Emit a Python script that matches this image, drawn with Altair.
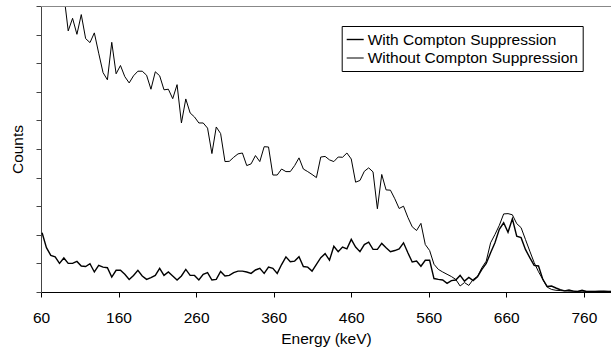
import altair as alt
import pandas as pd

# Detector channel calibration (keV): first channel and channel width
CHANNEL_START = 61.4
CHANNEL_STEP = 5.615

series_names = ["With Compton Suppression", "Without Compton Suppression"]

# counts per channel (arbitrary units, 1 unit = one y tick)
with_cs = [
    2.07, 1.55, 1.28, 1.23, 1.00, 1.19, 1.00, 1.00, 1.07, 0.91,
    0.89, 0.99, 0.70, 0.93, 0.87, 0.85, 0.52, 0.76, 0.76, 0.62,
    0.44, 0.58, 0.76, 0.56, 0.44, 0.50, 0.58, 0.83, 0.58, 0.70,
    0.56, 0.42, 0.56, 0.79, 0.58, 0.58, 0.42, 0.62, 0.68, 0.42,
    0.44, 0.72, 0.56, 0.58, 0.68, 0.73, 0.73, 0.70, 0.65, 0.77,
    0.83, 0.65, 0.87, 0.83, 0.65, 0.96, 1.23, 1.06, 1.08, 1.23,
    0.89, 0.87, 0.73, 0.97, 1.20, 1.34, 1.11, 1.60, 1.41, 1.57,
    1.51, 1.84, 1.57, 1.41, 1.66, 1.74, 1.49, 1.49, 1.70, 1.55,
    1.41, 1.45, 1.51, 1.72, 1.37, 1.05, 1.08, 0.90, 1.11, 1.11,
    0.47, 0.44, 0.42, 0.30, 0.40, 0.42, 0.58, 0.38, 0.51, 0.40,
    0.53, 0.79, 1.00, 1.37, 1.72, 2.19, 2.42, 2.09, 2.56, 1.95,
    1.90, 1.49, 1.20, 0.93, 0.91, 0.44, 0.19, 0.21, 0.14, 0.08,
    0.04, 0.07, 0.03, 0.02, 0.06, 0.02, 0.02, 0.02, 0.02, 0.03,
    0.02, 0.02,
]

without_cs = [
    14.7, 13.7, 13.0, 12.3, 11.6, 10.4, 9.13, 9.57, 9.01, 9.70,
    8.86, 8.72, 9.06, 8.35, 7.67, 7.42, 8.73, 7.63, 7.92, 7.53,
    7.31, 7.56, 7.72, 7.72, 7.58, 7.09, 7.70, 7.56, 7.07, 7.09,
    6.76, 7.25, 5.91, 6.75, 6.26, 6.12, 5.91, 5.91, 5.73, 4.84,
    5.77, 5.54, 4.56, 4.57, 4.71, 4.83, 4.86, 4.42, 4.48, 4.77,
    4.56, 5.08, 5.07, 4.09, 4.09, 4.30, 4.21, 4.21, 4.42, 4.69,
    4.30, 4.21, 4.11, 4.00, 4.72, 4.74, 4.62, 4.56, 4.72, 4.71,
    4.86, 4.65, 3.84, 3.90, 4.22, 4.34, 4.20, 2.91, 4.11, 3.57,
    3.56, 3.26, 2.92, 3.00, 2.61, 2.28, 2.15, 2.40, 1.66, 1.45,
    0.97, 0.79, 0.70, 0.62, 0.54, 0.44, 0.21, 0.33, 0.23, 0.44,
    0.55, 0.85, 1.08, 1.72, 2.01, 2.33, 2.73, 2.74, 2.70, 2.39,
    2.25, 1.84, 1.43, 1.03, 0.71, 0.44, 0.17, 0.09, 0.06, 0.05,
    0.04, 0.03, 0.03, 0.02, 0.03, 0.02, 0.02, 0.02, 0.03, 0.02,
    0.02, 0.02,
]

x_ticks = [60, 160, 260, 360, 460, 560, 660, 760]
y_ticks = [0, 1, 2, 3, 4, 5, 6, 7, 8, 9, 10]

rows = []
for name, vals in zip(series_names, [with_cs, without_cs]):
    for i, v in enumerate(vals):
        rows.append({"energy": CHANNEL_START + CHANNEL_STEP * i, "counts": v, "series": name})
df = pd.DataFrame(rows)

FONT = "Liberation Sans"
FS = 15.5

lines = alt.Chart(df).mark_line(clip=True, interpolate="linear").encode(
    x=alt.X("energy:Q",
            scale=alt.Scale(domain=[60, 795], nice=False, zero=False),
            axis=alt.Axis(values=x_ticks, title="Energy (keV)", grid=False,
                          domainColor="black", tickColor="black", tickSize=5,
                          labelFont=FONT, labelFontSize=FS, labelColor="black",
                          labelPadding=13, labelFlush=False, labelOverlap=False,
                          titleFont=FONT, titleFontSize=FS, titleFontWeight="normal",
                          titleColor="black", titlePadding=6)),
    y=alt.Y("counts:Q",
            scale=alt.Scale(domain=[0, 10], nice=False, zero=True),
            axis=alt.Axis(values=y_ticks, labels=False, title="Counts", grid=False,
                          domainColor="#444444", tickColor="#444444", tickSize=5,
                          titleFont=FONT, titleFontSize=FS, titleFontWeight="normal",
                          titleColor="black", titlePadding=10)),
    color=alt.Color("series:N",
                    scale=alt.Scale(domain=series_names, range=["black", "black"]),
                    legend=alt.Legend(title=None, orient="none", legendX=300.7, legendY=20,
                                      strokeColor="black", fillColor="white", padding=4,
                                      symbolType="stroke", symbolSize=289,
                                      symbolStrokeWidth=1.2, rowPadding=1, labelOffset=3,
                                      labelFont=FONT, labelFontSize=FS, labelColor="black",
                                      labelLimit=400, cornerRadius=0)),
    strokeWidth=alt.StrokeWidth("series:N",
                                scale=alt.Scale(domain=series_names, range=[1.4, 1.0]),
                                legend=None),
)

top_line = alt.Chart(pd.DataFrame({"a": [0]})).mark_rule(color="#888888", strokeWidth=1).encode(
    x=alt.value(0), x2=alt.value(570), y=alt.value(0.5)
)

chart = alt.layer(lines, top_line).properties(
    width=570, height=286,
    autosize=alt.AutoSizeParams(type="none"),
    padding={"left": 41, "top": 6, "right": 0, "bottom": 58},
).configure_view(stroke=None)

chart.save("out.html", embed_options={"renderer": "svg", "actions": False})
